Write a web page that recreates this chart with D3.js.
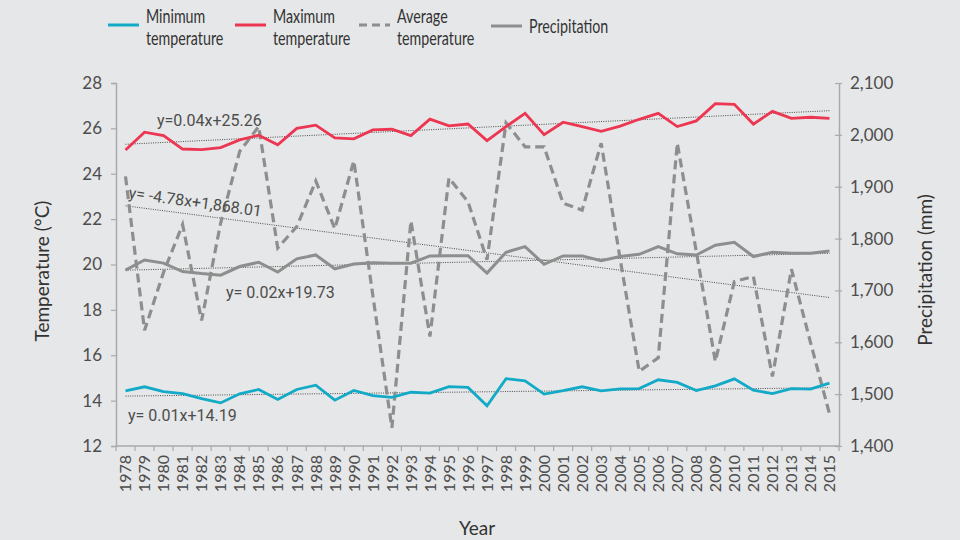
<!DOCTYPE html>
<html>
<head>
<meta charset="utf-8">
<script src="https://cdn.jsdelivr.net/npm/d3@7"></script>
<style>
  html, body { margin: 0; padding: 0; background: #e6e7e8; }
  svg { display: block; }
</style>
</head>
<body>
<svg id="chart" width="960" height="540"></svg>
<script>
// Annual climate series, 1978–2015
const years = d3.range(1978, 2016);

const minTemp = [14.43, 14.61, 14.40, 14.31, 14.09, 13.90, 14.30, 14.49, 14.05, 14.49,
                 14.68, 14.02, 14.45, 14.22, 14.14, 14.37, 14.33, 14.62, 14.58, 13.77,
                 14.97, 14.87, 14.29, 14.44, 14.61, 14.43, 14.52, 14.53, 14.92, 14.80,
                 14.44, 14.65, 14.96, 14.46, 14.31, 14.53, 14.51, 14.77];

const maxTemp = [25.05, 25.83, 25.68, 25.09, 25.06, 25.15, 25.49, 25.70, 25.28, 26.00,
                 26.14, 25.58, 25.54, 25.93, 25.96, 25.68, 26.41, 26.11, 26.19, 25.46,
                 26.08, 26.66, 25.72, 26.27, 26.08, 25.87, 26.10, 26.40, 26.66, 26.08,
                 26.33, 27.09, 27.06, 26.19, 26.75, 26.44, 26.49, 26.44];

// plotted against the right-hand (mm) axis
const dashedSeries = [1920, 1623, 1735, 1827, 1642, 1830, 1968, 2016, 1782, 1823,
                      1911, 1819, 1950, 1690, 1435, 1834, 1611, 1917, 1871, 1759,
                      2023, 1977, 1977, 1868, 1855, 1984, 1760, 1544, 1570, 1984,
                      1775, 1563, 1717, 1727, 1534, 1741, 1600, 1462];

// plotted against the left-hand (°C) axis
const solidSeries = [19.75, 20.20, 20.06, 19.69, 19.60, 19.53, 19.91, 20.10, 19.67, 20.25,
                     20.42, 19.81, 20.02, 20.08, 20.06, 20.06, 20.38, 20.39, 20.39, 19.62,
                     20.54, 20.79, 20.01, 20.38, 20.38, 20.17, 20.35, 20.45, 20.79, 20.47,
                     20.42, 20.85, 20.98, 20.35, 20.54, 20.50, 20.50, 20.60];

// linear trends, x = 1 … 38
const trendMax = [0.04, 25.26];
const trendMin = [0.01, 14.19];
const trendSolid = [0.02, 19.73];
const trendDashed = [-4.78, 1868.01];

const tempTicks = [12, 14, 16, 18, 20, 22, 24, 26, 28];
const precipTicks = [1400, 1500, 1600, 1700, 1800, 1900, 2000, 2100];

const legendItems = [
  { lines: ["Minimum", "temperature"], color: "#13aac7", dash: null },
  { lines: ["Maximum", "temperature"], color: "#ec3652", dash: null },
  { lines: ["Average", "temperature"], color: "#8e8e8e", dash: "8,5" },
  { lines: ["Precipitation"], color: "#8e8e8e", dash: null }
];

const svg = d3.select("#chart");
const plotL = 116, plotR = 839, plotT = 83, plotB = 446;
const axisFont = "Lato, 'Open Sans', sans-serif";
const eqFont = "Roboto, 'Noto Sans', sans-serif";
const axisColor = "#a9aaab";
const textColor = "#4d4d4d";

const x = d3.scaleBand().domain(years).range([plotL, plotR]).padding(0);
const cx = d => x(d) + x.bandwidth() / 2;
const yT = d3.scaleLinear().domain([12, 28]).range([plotB, plotT]);
const yP = d3.scaleLinear().domain([1400, 2100]).range([plotB, plotT]);

// axes
const axisG = svg.append("g");
const leftAxis = d3.axisLeft(yT).tickValues(tempTicks).tickSize(5).tickPadding(9);
const lg = axisG.append("g").attr("transform", `translate(${plotL},0)`).call(leftAxis);
const rightAxis = d3.axisRight(yP).tickValues(precipTicks).tickSize(0).tickPadding(11)
  .tickFormat(d3.format(","));
const rg = axisG.append("g").attr("transform", `translate(${plotR},0)`).call(rightAxis);
rg.selectAll(".tick").append("line").attr("x1", -4).attr("x2", 3);

[lg, rg].forEach(g => {
  g.select(".domain").attr("stroke", axisColor).attr("stroke-width", 1.5);
  g.selectAll(".tick line").attr("stroke", axisColor).attr("stroke-width", 1.2);
  g.selectAll(".tick text").attr("fill", textColor).attr("font-family", axisFont)
    .attr("font-size", 17);
});

// bottom axis with ticks on band edges
const bg = axisG.append("g");
bg.append("line").attr("x1", plotL).attr("x2", plotR).attr("y1", plotB).attr("y2", plotB)
  .attr("stroke", axisColor).attr("stroke-width", 1.5);
bg.selectAll("line.tk").data(years.concat(["end"])).join("line").attr("class", "tk")
  .attr("x1", d => d === "end" ? plotR : x(d)).attr("x2", d => d === "end" ? plotR : x(d))
  .attr("y1", plotB).attr("y2", plotB + 5)
  .attr("stroke", axisColor).attr("stroke-width", 1.2);
bg.selectAll("text").data(years).join("text")
  .attr("transform", d => `translate(${cx(d)},${plotB + 9}) rotate(-90)`)
  .attr("text-anchor", "end").attr("dy", "0.36em")
  .attr("font-family", axisFont).attr("font-size", 16).attr("fill", textColor)
  .text(d => d);

// axis titles
svg.append("text").attr("transform", `translate(49,271) rotate(-90)`)
  .attr("text-anchor", "middle").attr("font-family", axisFont).attr("font-size", 19)
  .attr("fill", "#333").text("Temperature (°C)");
svg.append("text").attr("transform", `translate(932,270) rotate(-90)`)
  .attr("text-anchor", "middle").attr("font-family", axisFont).attr("font-size", 19)
  .attr("fill", "#333").text("Precipitation (mm)");
svg.append("text").attr("x", 477).attr("y", 535)
  .attr("text-anchor", "middle").attr("font-family", axisFont).attr("font-size", 19)
  .attr("fill", "#333").text("Year");

// trend lines
function trend(coef, scale) {
  const n = years.length;
  return [[cx(years[0]), scale(coef[0] * 1 + coef[1])],
          [cx(years[n - 1]), scale(coef[0] * n + coef[1])]];
}
const trendG = svg.append("g");
[[trendMax, yT], [trendMin, yT], [trendSolid, yT], [trendDashed, yP]].forEach(([c, s]) => {
  trendG.append("path").attr("d", d3.line()(trend(c, s)))
    .attr("fill", "none").attr("stroke", "#3a3a3a").attr("stroke-width", 0.9)
    .attr("stroke-dasharray", "1,1.3");
});

// data lines
const lineT = d3.line().x((d, i) => cx(years[i])).y(d => yT(d));
const lineP = d3.line().x((d, i) => cx(years[i])).y(d => yP(d));
const dataG = svg.append("g").attr("fill", "none").attr("stroke-linejoin", "miter");
dataG.append("path").attr("d", lineP(dashedSeries)).attr("stroke", "#8e8e8e")
  .attr("stroke-width", 3.2).attr("stroke-dasharray", "9,5");
dataG.append("path").attr("d", lineT(solidSeries)).attr("stroke", "#8e8e8e")
  .attr("stroke-width", 3);
dataG.append("path").attr("d", lineT(minTemp)).attr("stroke", "#13aac7")
  .attr("stroke-width", 2.8);
dataG.append("path").attr("d", lineT(maxTemp)).attr("stroke", "#ec3652")
  .attr("stroke-width", 2.8);

// trend equations
const fmtEq = (c, sp) => `y=${sp ? " " : ""}${c[0]}x+${c[1].toFixed(2)}`;
const eqG = svg.append("g").attr("font-family", eqFont).attr("font-size", 16).attr("fill", textColor);
eqG.append("text").attr("x", 157).attr("y", 126).text(fmtEq(trendMax, false));
eqG.append("text").attr("x", 226).attr("y", 298).text(fmtEq(trendSolid, true));
eqG.append("text").attr("x", 128).attr("y", 421).text(fmtEq(trendMin, true));
eqG.append("text").attr("transform", "translate(128,198) rotate(8)")
  .text("y= " + trendDashed[0] + "x+" + d3.format(",.2f")(trendDashed[1]));

// legend (condensed labels)
const legX = [108, 235, 359, 491];
const leg = svg.append("g");
legendItems.forEach((it, i) => {
  const g = leg.append("g").attr("transform", `translate(${legX[i]},0)`);
  const ly = it.lines.length > 1 ? 25 : 26;
  g.append("line").attr("x1", 0).attr("x2", 31).attr("y1", ly).attr("y2", ly)
    .attr("stroke", it.color).attr("stroke-width", 3)
    .attr("stroke-dasharray", it.dash);
  const t = g.append("text").attr("transform", "translate(38,0) scale(0.77,1)")
    .attr("font-family", axisFont).attr("font-size", 18.5).attr("fill", "#333");
  if (it.lines.length > 1) {
    t.append("tspan").attr("x", 0).attr("y", 23).text(it.lines[0]);
    t.append("tspan").attr("x", 0).attr("y", 45).text(it.lines[1]);
  } else {
    t.append("tspan").attr("x", 0).attr("y", 33).text(it.lines[0]);
  }
});
</script>
</body>
</html>
